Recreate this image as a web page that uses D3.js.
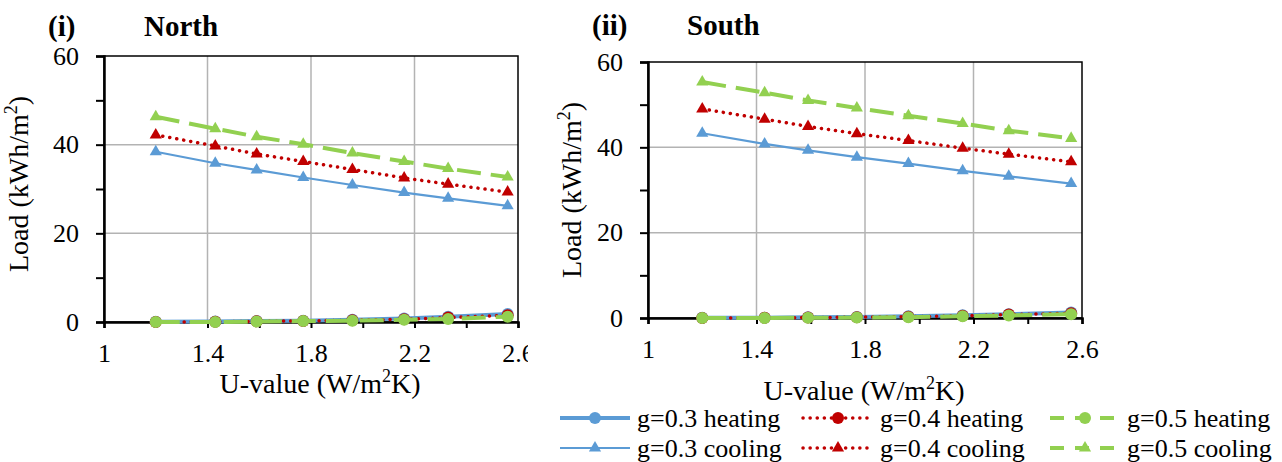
<!DOCTYPE html>
<html>
<head>
<meta charset="utf-8">
<script src="https://cdn.jsdelivr.net/npm/d3@7"></script>
<style>
  body { margin: 0; background: #fff; }
  svg { display: block; font-family: "Liberation Serif", "Times New Roman", serif; }
</style>
</head>
<body>
<div id="chart"></div>
<script>
// U-values shared by every series
const uValues = [1.2, 1.43, 1.59, 1.77, 1.96, 2.16, 2.33, 2.56];

// North
const northHeat03 = [0.05, 0.1, 0.2, 0.3, 0.5, 0.8, 1.2, 1.8];
const northHeat04 = [0.0, 0.05, 0.15, 0.25, 0.4, 0.6, 1.0, 1.5];
const northHeat05 = [0.0, 0.0, 0.1, 0.2, 0.3, 0.5, 0.7, 1.2];
const northCool03 = [38.4, 35.8, 34.3, 32.6, 30.9, 29.2, 27.9, 26.2];
const northCool04 = [42.2, 39.7, 37.9, 36.2, 34.4, 32.5, 31.1, 29.3];
const northCool05 = [46.3, 43.6, 41.8, 40.1, 38.1, 36.2, 34.6, 32.7];

// South
const southHeat03 = [0.05, 0.08, 0.15, 0.25, 0.4, 0.65, 0.9, 1.3];
const southHeat04 = [0.0, 0.05, 0.1, 0.2, 0.3, 0.5, 0.8, 1.1];
const southHeat05 = [0.0, 0.0, 0.05, 0.1, 0.2, 0.4, 0.6, 0.9];
const southCool03 = [43.3, 40.8, 39.3, 37.7, 36.2, 34.5, 33.2, 31.5];
const southCool04 = [49.0, 46.6, 44.9, 43.2, 41.6, 39.8, 38.4, 36.6];
const southCool05 = [55.3, 52.8, 51.0, 49.2, 47.4, 45.6, 43.9, 42.1];

const xTicks = [1, 1.4, 1.8, 2.2, 2.6];
const yTicks = [0, 20, 40, 60];
const seriesNames = ["g=0.3 heating", "g=0.4 heating", "g=0.5 heating",
                     "g=0.3 cooling", "g=0.4 cooling", "g=0.5 cooling"];

const blue = "#5B9BD5", red = "#C00000", green = "#92D050";

// look of each series, same order as seriesNames
const styles = [
  { color: blue,  width: 4,   dash: null,    cap: "butt",  marker: "circle" },
  { color: red,   width: 3.5, dash: "0.1,7", cap: "round", marker: "circle" },
  { color: green, width: 4,   dash: "24,10", cap: "butt",  marker: "circle" },
  { color: blue,  width: 2.2, dash: null,    cap: "butt",  marker: "triangle" },
  { color: red,   width: 3.5, dash: "0.1,7", cap: "round", marker: "triangle" },
  { color: green, width: 4,   dash: "24,10", cap: "butt",  marker: "triangle" },
];

const panels = [
  { id: "north", tag: "(i)", title: "North",
    series: [northHeat03, northHeat04, northHeat05, northCool03, northCool04, northCool05],
    left: 104, right: 518, top: 56, bottom: 322, clipW: 528,
    tagX: 48, titleX: 144, titleY: 36, yTitleX: 28, yTitleY: 184, xTitleX: 320, xTitleY: 393 },
  { id: "south", tag: "(ii)", title: "South",
    series: [southHeat03, southHeat04, southHeat05, southCool03, southCool04, southCool05],
    left: 648, right: 1082, top: 62, bottom: 318, clipW: null,
    tagX: 592, titleX: 687, titleY: 35, yTitleX: 581, yTitleY: 190, xTitleX: 864, xTitleY: 400 },
];

const W = 1282, H = 462;
const svg = d3.select("#chart").append("svg").attr("width", W).attr("height", H);

const triangle = d3.symbol().type(d3.symbolTriangle).size(64);

panels.forEach((p) => {
  const g = svg.append("g");
  if (p.clipW) {
    svg.append("clipPath").attr("id", "clip-" + p.id)
      .append("rect").attr("x", 0).attr("y", 0).attr("width", p.clipW).attr("height", H);
    g.attr("clip-path", `url(#clip-${p.id})`);
  }

  const x = d3.scaleLinear().domain([1, 2.6]).range([p.left, p.right]);
  const y = d3.scaleLinear().domain([0, 60]).range([p.bottom, p.top]);

  // gridlines
  g.append("g").selectAll("line").data(xTicks.slice(1, -1)).join("line")
    .attr("x1", (d) => x(d)).attr("x2", (d) => x(d))
    .attr("y1", p.top).attr("y2", p.bottom)
    .attr("stroke", "#B3B3B3").attr("stroke-width", 1.5);
  g.append("g").selectAll("line").data(yTicks.slice(1, -1)).join("line")
    .attr("x1", p.left).attr("x2", p.right)
    .attr("y1", (d) => y(d)).attr("y2", (d) => y(d))
    .attr("stroke", "#B3B3B3").attr("stroke-width", 1.5);

  // frame
  g.append("rect")
    .attr("x", p.left).attr("y", p.top)
    .attr("width", p.right - p.left).attr("height", p.bottom - p.top)
    .attr("fill", "none").attr("stroke", "#000").attr("stroke-width", 1.5);

  // y axis: minor ticks every 10, labels on majors
  const yAxis = g.append("g")
    .attr("transform", `translate(${p.left},0)`)
    .call(d3.axisLeft(y)
      .tickValues(d3.range(0, 61, 10))
      .tickSize(8).tickPadding(17)
      .tickFormat((d) => (yTicks.includes(d) ? d : "")));

  // x axis: minor ticks every 0.2
  const xAxis = g.append("g")
    .attr("transform", `translate(0,${p.bottom})`)
    .call(d3.axisBottom(x)
      .tickValues(d3.range(0, 9).map((i) => 1 + i * 0.2))
      .tickSize(6).tickPadding(16)
      .tickFormat((d) => {
        const hit = xTicks.find((t) => Math.abs(t - d) < 1e-6);
        return hit === undefined ? "" : d3.format("")(hit);
      }));

  [yAxis, xAxis].forEach((ax) => {
    ax.select(".domain").attr("stroke", "#000").attr("stroke-width", 2.5);
    ax.selectAll(".tick line").attr("stroke", "#000").attr("stroke-width", 2);
    ax.selectAll(".tick text")
      .attr("font-family", "Liberation Serif")
      .attr("font-size", 26).attr("fill", "#000");
  });

  // lines, drawn heating first then cooling
  const line = d3.line().x((d, i) => x(uValues[i])).y((d) => y(d));
  p.series.forEach((vals, si) => {
    const s = styles[si];
    const sg = g.append("g");
    sg.append("path")
      .datum(vals)
      .attr("fill", "none")
      .attr("stroke", s.color)
      .attr("stroke-width", s.width)
      .attr("stroke-linecap", s.cap)
      .attr("stroke-dasharray", s.dash)
      .attr("d", line);
    if (s.marker === "circle") {
      sg.selectAll("circle").data(vals).join("circle")
        .attr("cx", (d, i) => x(uValues[i]))
        .attr("cy", (d) => y(d))
        .attr("r", 6)
        .attr("fill", s.color);
    } else {
      sg.selectAll("path.mk").data(vals).join("path")
        .attr("class", "mk")
        .attr("transform", (d, i) => `translate(${x(uValues[i])},${y(d)})`)
        .attr("d", triangle)
        .attr("fill", s.color);
    }
  });

  // titles
  svg.append("text").attr("x", p.tagX).attr("y", p.titleY)
    .attr("font-size", 29).attr("font-weight", "bold").text(p.tag);
  svg.append("text").attr("x", p.titleX).attr("y", p.titleY)
    .attr("font-size", 29).attr("font-weight", "bold").text(p.title);

  const yt = svg.append("text")
    .attr("transform", `translate(${p.yTitleX},${p.yTitleY}) rotate(-90)`)
    .attr("text-anchor", "middle").attr("font-size", 28);
  yt.append("tspan").text("Load (kWh/m");
  yt.append("tspan").attr("font-size", 18).attr("dy", -11).text("2");
  yt.append("tspan").attr("dy", 11).text(")");

  const xt = svg.append("text")
    .attr("x", p.xTitleX).attr("y", p.xTitleY)
    .attr("text-anchor", "middle").attr("font-size", 28);
  xt.append("tspan").text("U-value (W/m");
  xt.append("tspan").attr("font-size", 18).attr("dy", -11).text("2");
  xt.append("tspan").attr("dy", 11).text("K)");
});

// legend, two rows of three
const legendCols = [560, 803, 1050];
const legendRows = [418, 448];
const legend = svg.append("g");
seriesNames.forEach((name, i) => {
  const s = styles[i];
  const lx = legendCols[i % 3];
  const ly = legendRows[Math.floor(i / 3)];
  const item = legend.append("g").attr("transform", `translate(${lx},${ly})`);
  item.append("line")
    .attr("x1", 0).attr("x2", 70).attr("y1", 0).attr("y2", 0)
    .attr("stroke", s.color)
    .attr("stroke-width", s.width)
    .attr("stroke-linecap", s.cap)
    .attr("stroke-dasharray", s.dash === "24,10" ? "14,11" : s.dash);
  if (s.marker === "circle") {
    item.append("circle").attr("cx", 35).attr("cy", 0).attr("r", 6).attr("fill", s.color);
  } else {
    item.append("path").attr("transform", "translate(35,0)").attr("d", triangle).attr("fill", s.color);
  }
  item.append("text")
    .attr("x", 77).attr("y", 9)
    .attr("font-size", 26)
    .text(name);
});
</script>
</body>
</html>
